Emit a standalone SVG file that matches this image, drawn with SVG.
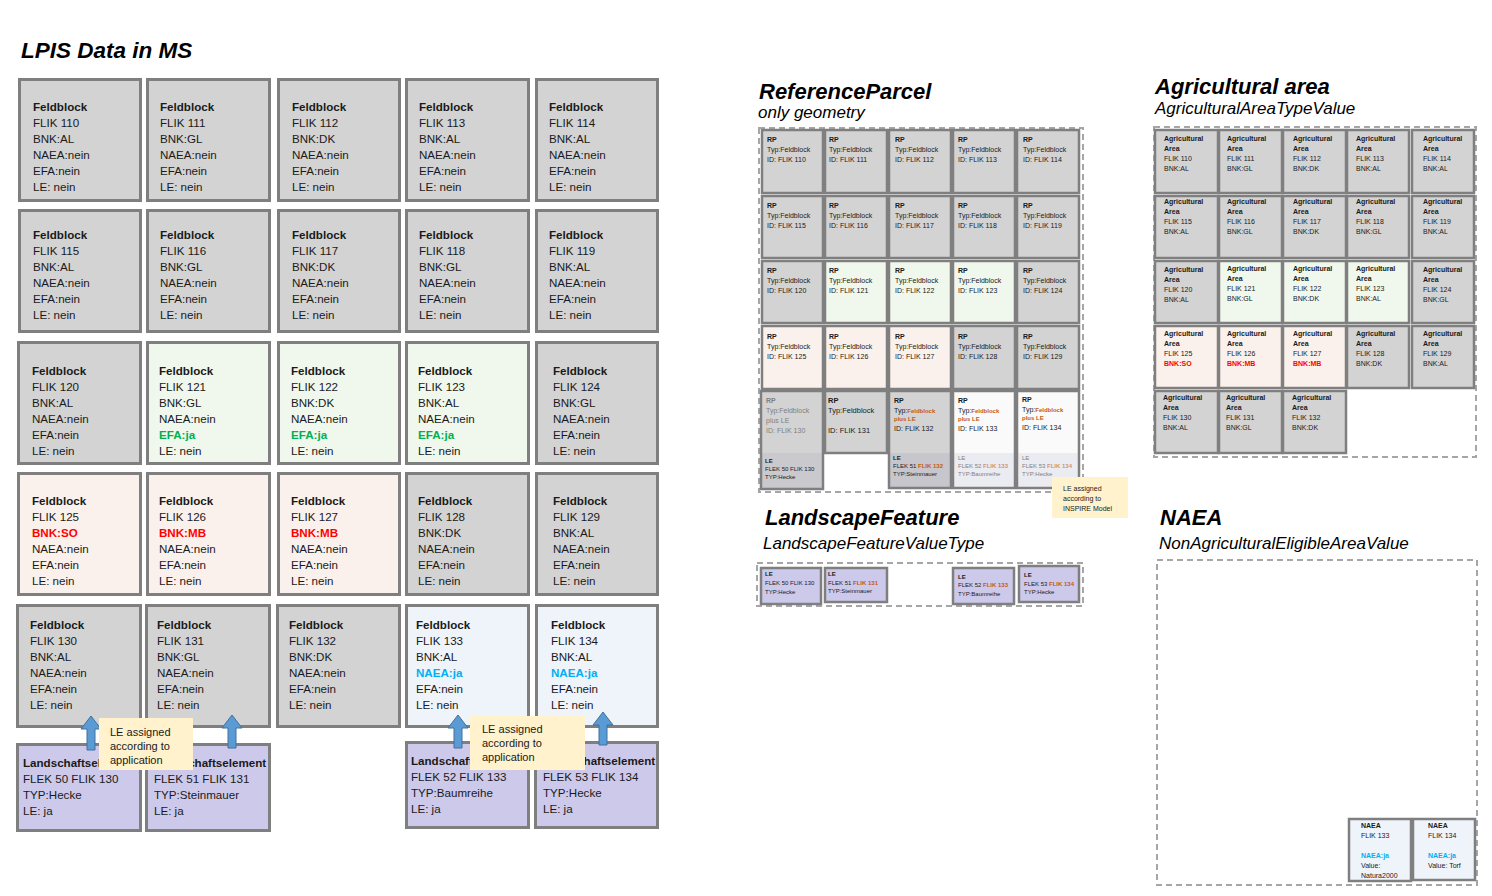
<svg xmlns="http://www.w3.org/2000/svg" width="1492" height="896" viewBox="0 0 1492 896">
<style>
text{font-family:"Liberation Sans",Arial,sans-serif;fill:#1a1a1a}
.h{font-weight:bold;font-style:italic;font-size:22px;fill:#000}
.s{font-style:italic;font-size:17px;fill:#000}
.c{stroke:#7f7f7f;stroke-width:3}
.m{stroke:#7f7f7f;stroke-width:2.5}
.g{fill:#d3d3d3}.gr{fill:#f0f7ec}.pk{fill:#fbf1ec}.bl{fill:#eff3fa}.lv{fill:#cdc9ea}.wh{fill:#fafafa}
.t{font-size:11.6px}
.b{font-weight:bold}
.red{fill:#ff0000;font-weight:bold}
.grn{fill:#00b050;font-weight:bold}
.cy{fill:#00b0f0;font-weight:bold}
.or{fill:#c55a11;font-weight:bold}
.st{font-size:7px}
.xs{font-size:6px}
.dim{fill:#808080}
.dash{fill:none;stroke:#a6a6a6;stroke-width:2;stroke-dasharray:6 4}
.call{fill:#fff2cc}
.arr{fill:#5b9bd5;stroke:#41719c;stroke-width:1}
</style>

<text class="h" x="21" y="58" style="font-size:22.5px">LPIS Data in MS</text>
<text class="h" x="759" y="99">ReferenceParcel</text>
<text class="s" x="758" y="118">only geometry</text>
<text class="h" x="1155" y="94">Agricultural area</text>
<text class="s" x="1155" y="114">AgriculturalAreaTypeValue</text>
<text class="h" x="765" y="525">LandscapeFeature</text>
<text class="s" x="763" y="549">LandscapeFeatureValueType</text>
<text class="h" x="1160" y="525">NAEA</text>
<text class="s" x="1159" y="549">NonAgriculturalEligibleAreaValue</text>

<!-- LPIS grid -->
<g id="fb110"><rect class="c g" x="19.5" y="79.5" width="121" height="121"/><text class="t" x="33" y="111"><tspan class="b">Feldblock</tspan><tspan x="33" dy="16">FLIK 110</tspan><tspan x="33" dy="16">BNK:AL</tspan><tspan x="33" dy="16">NAEA:nein</tspan><tspan x="33" dy="16">EFA:nein</tspan><tspan x="33" dy="16">LE: nein</tspan></text></g>
<g id="fb111"><rect class="c g" x="147.5" y="79.5" width="122" height="121"/><text class="t" x="160" y="111"><tspan class="b">Feldblock</tspan><tspan x="160" dy="16">FLIK 111</tspan><tspan x="160" dy="16">BNK:GL</tspan><tspan x="160" dy="16">NAEA:nein</tspan><tspan x="160" dy="16">EFA:nein</tspan><tspan x="160" dy="16">LE: nein</tspan></text></g>
<g id="fb112"><rect class="c g" x="278.5" y="79.5" width="121" height="121"/><text class="t" x="292" y="111"><tspan class="b">Feldblock</tspan><tspan x="292" dy="16">FLIK 112</tspan><tspan x="292" dy="16">BNK:DK</tspan><tspan x="292" dy="16">NAEA:nein</tspan><tspan x="292" dy="16">EFA:nein</tspan><tspan x="292" dy="16">LE: nein</tspan></text></g>
<g id="fb113"><rect class="c g" x="406.5" y="79.5" width="122" height="121"/><text class="t" x="419" y="111"><tspan class="b">Feldblock</tspan><tspan x="419" dy="16">FLIK 113</tspan><tspan x="419" dy="16">BNK:AL</tspan><tspan x="419" dy="16">NAEA:nein</tspan><tspan x="419" dy="16">EFA:nein</tspan><tspan x="419" dy="16">LE: nein</tspan></text></g>
<g id="fb114"><rect class="c g" x="536.5" y="79.5" width="121" height="121"/><text class="t" x="549" y="111"><tspan class="b">Feldblock</tspan><tspan x="549" dy="16">FLIK 114</tspan><tspan x="549" dy="16">BNK:AL</tspan><tspan x="549" dy="16">NAEA:nein</tspan><tspan x="549" dy="16">EFA:nein</tspan><tspan x="549" dy="16">LE: nein</tspan></text></g>

<g id="fb115"><rect class="c g" x="19.5" y="210.5" width="121" height="121"/><text class="t" x="33" y="239"><tspan class="b">Feldblock</tspan><tspan x="33" dy="16">FLIK 115</tspan><tspan x="33" dy="16">BNK:AL</tspan><tspan x="33" dy="16">NAEA:nein</tspan><tspan x="33" dy="16">EFA:nein</tspan><tspan x="33" dy="16">LE: nein</tspan></text></g>
<g id="fb116"><rect class="c g" x="147.5" y="210.5" width="122" height="121"/><text class="t" x="160" y="239"><tspan class="b">Feldblock</tspan><tspan x="160" dy="16">FLIK 116</tspan><tspan x="160" dy="16">BNK:GL</tspan><tspan x="160" dy="16">NAEA:nein</tspan><tspan x="160" dy="16">EFA:nein</tspan><tspan x="160" dy="16">LE: nein</tspan></text></g>
<g id="fb117"><rect class="c g" x="278.5" y="210.5" width="121" height="121"/><text class="t" x="292" y="239"><tspan class="b">Feldblock</tspan><tspan x="292" dy="16">FLIK 117</tspan><tspan x="292" dy="16">BNK:DK</tspan><tspan x="292" dy="16">NAEA:nein</tspan><tspan x="292" dy="16">EFA:nein</tspan><tspan x="292" dy="16">LE: nein</tspan></text></g>
<g id="fb118"><rect class="c g" x="406.5" y="210.5" width="122" height="121"/><text class="t" x="419" y="239"><tspan class="b">Feldblock</tspan><tspan x="419" dy="16">FLIK 118</tspan><tspan x="419" dy="16">BNK:GL</tspan><tspan x="419" dy="16">NAEA:nein</tspan><tspan x="419" dy="16">EFA:nein</tspan><tspan x="419" dy="16">LE: nein</tspan></text></g>
<g id="fb119"><rect class="c g" x="536.5" y="210.5" width="121" height="121"/><text class="t" x="549" y="239"><tspan class="b">Feldblock</tspan><tspan x="549" dy="16">FLIK 119</tspan><tspan x="549" dy="16">BNK:AL</tspan><tspan x="549" dy="16">NAEA:nein</tspan><tspan x="549" dy="16">EFA:nein</tspan><tspan x="549" dy="16">LE: nein</tspan></text></g>

<g id="fb120"><rect class="c g" x="18.5" y="342.5" width="122" height="121"/><text class="t" x="32" y="375"><tspan class="b">Feldblock</tspan><tspan x="32" dy="16">FLIK 120</tspan><tspan x="32" dy="16">BNK:AL</tspan><tspan x="32" dy="16">NAEA:nein</tspan><tspan x="32" dy="16">EFA:nein</tspan><tspan x="32" dy="16">LE: nein</tspan></text></g>
<g id="fb121"><rect class="c gr" x="147.5" y="342.5" width="122" height="121"/><text class="t" x="159" y="375"><tspan class="b">Feldblock</tspan><tspan x="159" dy="16">FLIK 121</tspan><tspan x="159" dy="16">BNK:GL</tspan><tspan x="159" dy="16">NAEA:nein</tspan><tspan x="159" dy="16" class="grn">EFA:ja</tspan><tspan x="159" dy="16">LE: nein</tspan></text></g>
<g id="fb122"><rect class="c gr" x="278.5" y="342.5" width="121" height="121"/><text class="t" x="291" y="375"><tspan class="b">Feldblock</tspan><tspan x="291" dy="16">FLIK 122</tspan><tspan x="291" dy="16">BNK:DK</tspan><tspan x="291" dy="16">NAEA:nein</tspan><tspan x="291" dy="16" class="grn">EFA:ja</tspan><tspan x="291" dy="16">LE: nein</tspan></text></g>
<g id="fb123"><rect class="c gr" x="406.5" y="342.5" width="122" height="121"/><text class="t" x="418" y="375"><tspan class="b">Feldblock</tspan><tspan x="418" dy="16">FLIK 123</tspan><tspan x="418" dy="16">BNK:AL</tspan><tspan x="418" dy="16">NAEA:nein</tspan><tspan x="418" dy="16" class="grn">EFA:ja</tspan><tspan x="418" dy="16">LE: nein</tspan></text></g>
<g id="fb124"><rect class="c g" x="536.5" y="342.5" width="121" height="121"/><text class="t" x="553" y="375"><tspan class="b">Feldblock</tspan><tspan x="553" dy="16">FLIK 124</tspan><tspan x="553" dy="16">BNK:GL</tspan><tspan x="553" dy="16">NAEA:nein</tspan><tspan x="553" dy="16">EFA:nein</tspan><tspan x="553" dy="16">LE: nein</tspan></text></g>

<g id="fb125"><rect class="c pk" x="18.5" y="473.5" width="122" height="121"/><text class="t" x="32" y="505"><tspan class="b">Feldblock</tspan><tspan x="32" dy="16">FLIK 125</tspan><tspan x="32" dy="16" class="red">BNK:SO</tspan><tspan x="32" dy="16">NAEA:nein</tspan><tspan x="32" dy="16">EFA:nein</tspan><tspan x="32" dy="16">LE: nein</tspan></text></g>
<g id="fb126"><rect class="c pk" x="147.5" y="473.5" width="122" height="121"/><text class="t" x="159" y="505"><tspan class="b">Feldblock</tspan><tspan x="159" dy="16">FLIK 126</tspan><tspan x="159" dy="16" class="red">BNK:MB</tspan><tspan x="159" dy="16">NAEA:nein</tspan><tspan x="159" dy="16">EFA:nein</tspan><tspan x="159" dy="16">LE: nein</tspan></text></g>
<g id="fb127"><rect class="c pk" x="278.5" y="473.5" width="121" height="121"/><text class="t" x="291" y="505"><tspan class="b">Feldblock</tspan><tspan x="291" dy="16">FLIK 127</tspan><tspan x="291" dy="16" class="red">BNK:MB</tspan><tspan x="291" dy="16">NAEA:nein</tspan><tspan x="291" dy="16">EFA:nein</tspan><tspan x="291" dy="16">LE: nein</tspan></text></g>
<g id="fb128"><rect class="c g" x="406.5" y="473.5" width="122" height="121"/><text class="t" x="418" y="505"><tspan class="b">Feldblock</tspan><tspan x="418" dy="16">FLIK 128</tspan><tspan x="418" dy="16">BNK:DK</tspan><tspan x="418" dy="16">NAEA:nein</tspan><tspan x="418" dy="16">EFA:nein</tspan><tspan x="418" dy="16">LE: nein</tspan></text></g>
<g id="fb129"><rect class="c g" x="536.5" y="473.5" width="121" height="121"/><text class="t" x="553" y="505"><tspan class="b">Feldblock</tspan><tspan x="553" dy="16">FLIK 129</tspan><tspan x="553" dy="16">BNK:AL</tspan><tspan x="553" dy="16">NAEA:nein</tspan><tspan x="553" dy="16">EFA:nein</tspan><tspan x="553" dy="16">LE: nein</tspan></text></g>

<g id="fb130"><rect class="c g" x="17.5" y="605.5" width="123" height="121"/><text class="t" x="30" y="629"><tspan class="b">Feldblock</tspan><tspan x="30" dy="16">FLIK 130</tspan><tspan x="30" dy="16">BNK:AL</tspan><tspan x="30" dy="16">NAEA:nein</tspan><tspan x="30" dy="16">EFA:nein</tspan><tspan x="30" dy="16">LE: nein</tspan></text></g>
<g id="fb131"><rect class="c g" x="146.5" y="605.5" width="123" height="121"/><text class="t" x="157" y="629"><tspan class="b">Feldblock</tspan><tspan x="157" dy="16">FLIK 131</tspan><tspan x="157" dy="16">BNK:GL</tspan><tspan x="157" dy="16">NAEA:nein</tspan><tspan x="157" dy="16">EFA:nein</tspan><tspan x="157" dy="16">LE: nein</tspan></text></g>
<g id="fb132"><rect class="c g" x="277.5" y="605.5" width="122" height="121"/><text class="t" x="289" y="629"><tspan class="b">Feldblock</tspan><tspan x="289" dy="16">FLIK 132</tspan><tspan x="289" dy="16">BNK:DK</tspan><tspan x="289" dy="16">NAEA:nein</tspan><tspan x="289" dy="16">EFA:nein</tspan><tspan x="289" dy="16">LE: nein</tspan></text></g>
<g id="fb133"><rect class="c bl" x="406.5" y="605.5" width="122" height="121"/><text class="t" x="416" y="629"><tspan class="b">Feldblock</tspan><tspan x="416" dy="16">FLIK 133</tspan><tspan x="416" dy="16">BNK:AL</tspan><tspan x="416" dy="16" class="cy">NAEA:ja</tspan><tspan x="416" dy="16">EFA:nein</tspan><tspan x="416" dy="16">LE: nein</tspan></text></g>
<g id="fb134"><rect class="c bl" x="536.5" y="605.5" width="121" height="121"/><text class="t" x="551" y="629"><tspan class="b">Feldblock</tspan><tspan x="551" dy="16">FLIK 134</tspan><tspan x="551" dy="16">BNK:AL</tspan><tspan x="551" dy="16" class="cy">NAEA:ja</tspan><tspan x="551" dy="16">EFA:nein</tspan><tspan x="551" dy="16">LE: nein</tspan></text></g>

<!-- Landschaftselemente -->
<g id="le50"><rect class="c lv" x="17.5" y="744.5" width="123" height="86"/><text class="t" x="23" y="767"><tspan class="b">Landschaftselement</tspan><tspan x="23" dy="16">FLEK 50 FLIK 130</tspan><tspan x="23" dy="16">TYP:Hecke</tspan><tspan x="23" dy="16">LE: ja</tspan></text></g>
<g id="le51"><rect class="c lv" x="146.5" y="744.5" width="123" height="86"/><text class="t" x="154" y="767"><tspan class="b">Landschaftselement</tspan><tspan x="154" dy="16">FLEK 51 FLIK 131</tspan><tspan x="154" dy="16">TYP:Steinmauer</tspan><tspan x="154" dy="16">LE: ja</tspan></text></g>
<g id="le52"><rect class="c lv" x="406.5" y="742.5" width="122" height="85"/><text class="t" x="411" y="765"><tspan class="b">Landschaftselement</tspan><tspan x="411" dy="16">FLEK 52 FLIK 133</tspan><tspan x="411" dy="16">TYP:Baumreihe</tspan><tspan x="411" dy="16">LE: ja</tspan></text></g>
<g id="le53"><rect class="c lv" x="535.5" y="742.5" width="122" height="85"/><text class="t" x="543" y="765"><tspan class="b">Landschaftselement</tspan><tspan x="543" dy="16">FLEK 53 FLIK 134</tspan><tspan x="543" dy="16">TYP:Hecke</tspan><tspan x="543" dy="16">LE: ja</tspan></text></g>

<!-- connectors: block arrows -->
<g id="connectors">
<path class="arr" d="M91,716 L101,729 L95,729 L95,750 L87,750 L87,729 L81,729 Z"/>
<path class="arr" d="M232,715 L242,728 L236,728 L236,748 L228,748 L228,728 L222,728 Z"/>
<path class="arr" d="M458,715 L468,728 L462,728 L462,748 L454,748 L454,728 L448,728 Z"/>
<path class="arr" d="M603,712 L613,725 L607,725 L607,745 L599,745 L599,725 L593,725 Z"/>
</g>

<g id="callout1"><rect class="call" x="99" y="718" width="94" height="52"/><text x="110" y="736" style="font-size:11px"><tspan>LE assigned</tspan><tspan x="110" dy="14">according to</tspan><tspan x="110" dy="14">application</tspan></text></g>
<g id="callout2"><rect class="call" x="470" y="716" width="115" height="54"/><text x="482" y="733" style="font-size:11px"><tspan>LE assigned</tspan><tspan x="482" dy="14">according to</tspan><tspan x="482" dy="14">application</tspan></text></g>

<!-- ReferenceParcel -->
<rect class="dash" x="759" y="128" width="324" height="364"/>
<g id="rp110"><rect class="m g" x="762" y="130" width="61" height="63"/><text class="st" x="767" y="141.5"><tspan class="b">RP</tspan><tspan x="767" dy="10">Typ:Feldblock</tspan><tspan x="767" dy="10">ID: FLIK 110</tspan></text></g>
<g id="rp111"><rect class="m g" x="825" y="130" width="62" height="63"/><text class="st" x="829" y="141.5"><tspan class="b">RP</tspan><tspan x="829" dy="10">Typ:Feldblock</tspan><tspan x="829" dy="10">ID: FLIK 111</tspan></text></g>
<g id="rp112"><rect class="m g" x="889" y="130" width="62" height="63"/><text class="st" x="895" y="141.5"><tspan class="b">RP</tspan><tspan x="895" dy="10">Typ:Feldblock</tspan><tspan x="895" dy="10">ID: FLIK 112</tspan></text></g>
<g id="rp113"><rect class="m g" x="953" y="130" width="62" height="63"/><text class="st" x="958" y="141.5"><tspan class="b">RP</tspan><tspan x="958" dy="10">Typ:Feldblock</tspan><tspan x="958" dy="10">ID: FLIK 113</tspan></text></g>
<g id="rp114"><rect class="m g" x="1017" y="130" width="62" height="63"/><text class="st" x="1023" y="141.5"><tspan class="b">RP</tspan><tspan x="1023" dy="10">Typ:Feldblock</tspan><tspan x="1023" dy="10">ID: FLIK 114</tspan></text></g>

<g id="rp115"><rect class="m g" x="762" y="196" width="61" height="62"/><text class="st" x="767" y="207.5"><tspan class="b">RP</tspan><tspan x="767" dy="10">Typ:Feldblock</tspan><tspan x="767" dy="10">ID: FLIK 115</tspan></text></g>
<g id="rp116"><rect class="m g" x="825" y="196" width="62" height="62"/><text class="st" x="829" y="207.5"><tspan class="b">RP</tspan><tspan x="829" dy="10">Typ:Feldblock</tspan><tspan x="829" dy="10">ID: FLIK 116</tspan></text></g>
<g id="rp117"><rect class="m g" x="889" y="196" width="62" height="62"/><text class="st" x="895" y="207.5"><tspan class="b">RP</tspan><tspan x="895" dy="10">Typ:Feldblock</tspan><tspan x="895" dy="10">ID: FLIK 117</tspan></text></g>
<g id="rp118"><rect class="m g" x="953" y="196" width="62" height="62"/><text class="st" x="958" y="207.5"><tspan class="b">RP</tspan><tspan x="958" dy="10">Typ:Feldblock</tspan><tspan x="958" dy="10">ID: FLIK 118</tspan></text></g>
<g id="rp119"><rect class="m g" x="1017" y="196" width="62" height="62"/><text class="st" x="1023" y="207.5"><tspan class="b">RP</tspan><tspan x="1023" dy="10">Typ:Feldblock</tspan><tspan x="1023" dy="10">ID: FLIK 119</tspan></text></g>

<g id="rp120"><rect class="m g" x="762" y="261" width="61" height="62"/><text class="st" x="767" y="272.5"><tspan class="b">RP</tspan><tspan x="767" dy="10">Typ:Feldblock</tspan><tspan x="767" dy="10">ID: FLIK 120</tspan></text></g>
<g id="rp121"><rect class="m gr" x="825" y="261" width="62" height="62"/><text class="st" x="829" y="272.5"><tspan class="b">RP</tspan><tspan x="829" dy="10">Typ:Feldblock</tspan><tspan x="829" dy="10">ID: FLIK 121</tspan></text></g>
<g id="rp122"><rect class="m gr" x="889" y="261" width="62" height="62"/><text class="st" x="895" y="272.5"><tspan class="b">RP</tspan><tspan x="895" dy="10">Typ:Feldblock</tspan><tspan x="895" dy="10">ID: FLIK 122</tspan></text></g>
<g id="rp123"><rect class="m gr" x="953" y="261" width="62" height="62"/><text class="st" x="958" y="272.5"><tspan class="b">RP</tspan><tspan x="958" dy="10">Typ:Feldblock</tspan><tspan x="958" dy="10">ID: FLIK 123</tspan></text></g>
<g id="rp124"><rect class="m g" x="1017" y="261" width="62" height="62"/><text class="st" x="1023" y="272.5"><tspan class="b">RP</tspan><tspan x="1023" dy="10">Typ:Feldblock</tspan><tspan x="1023" dy="10">ID: FLIK 124</tspan></text></g>

<g id="rp125"><rect class="m pk" x="762" y="326" width="61" height="63"/><text class="st" x="767" y="338.5"><tspan class="b">RP</tspan><tspan x="767" dy="10">Typ:Feldblock</tspan><tspan x="767" dy="10">ID: FLIK 125</tspan></text></g>
<g id="rp126"><rect class="m pk" x="825" y="326" width="62" height="63"/><text class="st" x="829" y="338.5"><tspan class="b">RP</tspan><tspan x="829" dy="10">Typ:Feldblock</tspan><tspan x="829" dy="10">ID: FLIK 126</tspan></text></g>
<g id="rp127"><rect class="m pk" x="889" y="326" width="62" height="63"/><text class="st" x="895" y="338.5"><tspan class="b">RP</tspan><tspan x="895" dy="10">Typ:Feldblock</tspan><tspan x="895" dy="10">ID: FLIK 127</tspan></text></g>
<g id="rp128"><rect class="m g" x="953" y="326" width="62" height="63"/><text class="st" x="958" y="338.5"><tspan class="b">RP</tspan><tspan x="958" dy="10">Typ:Feldblock</tspan><tspan x="958" dy="10">ID: FLIK 128</tspan></text></g>
<g id="rp129"><rect class="m g" x="1017" y="326" width="62" height="63"/><text class="st" x="1023" y="338.5"><tspan class="b">RP</tspan><tspan x="1023" dy="10">Typ:Feldblock</tspan><tspan x="1023" dy="10">ID: FLIK 129</tspan></text></g>

<g id="rp130"><rect class="g" x="761" y="391" width="62" height="98"/><rect x="761" y="453" width="62" height="36" fill="#c9c9ce"/><rect x="761" y="391" width="62" height="98" fill="none" stroke="#7f7f7f" stroke-width="2.5"/><text class="st dim" x="766" y="402.5"><tspan class="b dim">RP</tspan><tspan class="dim" x="766" dy="10">Typ:Feldblock</tspan><tspan class="dim" x="766" dy="10">plus LE</tspan><tspan class="dim" x="766" dy="10">ID: FLIK 130</tspan></text><text class="xs" x="765" y="463"><tspan class="b">LE</tspan><tspan x="765" dy="8">FLEK 50 FLIK 130</tspan><tspan x="765" dy="8">TYP:Hecke</tspan></text></g>
<g id="rp131"><rect class="m g" x="825" y="391" width="62" height="62"/><text x="828" y="403" style="font-size:7.5px"><tspan class="b">RP</tspan><tspan x="828" dy="10">Typ:Feldblock</tspan><tspan x="828" dy="20">ID: FLIK 131</tspan></text></g>
<g id="rp132"><rect class="g" x="889" y="391" width="62" height="97"/><rect x="889" y="453" width="62" height="35" fill="#c6c6cc"/><rect x="889" y="391" width="62" height="97" fill="none" stroke="#7f7f7f" stroke-width="2.5"/><text x="894" y="402.5" style="font-size:7px"><tspan class="b">RP</tspan><tspan x="894" dy="10">Typ:</tspan><tspan class="or" style="font-size:6px">Feldblock</tspan><tspan class="or" x="894" dy="8" style="font-size:6px">plus LE</tspan><tspan x="894" dy="10">ID: FLIK 132</tspan></text><text class="xs" x="893" y="460"><tspan class="b">LE</tspan><tspan x="893" dy="8">FLEK 51 </tspan><tspan class="or">FLIK 132</tspan><tspan x="893" dy="8">TYP:Steinmauer</tspan></text></g>
<g id="rp133"><rect class="wh" x="953" y="391" width="62" height="97"/><rect x="953" y="453" width="62" height="35" fill="#ebebf2"/><rect x="953" y="391" width="62" height="97" fill="none" stroke="#7f7f7f" stroke-width="2.5"/><text x="958" y="402.5" style="font-size:7px"><tspan class="b">RP</tspan><tspan x="958" dy="10">Typ:</tspan><tspan class="or" style="font-size:6px">Feldblock</tspan><tspan class="or" x="958" dy="8" style="font-size:6px">plus LE</tspan><tspan x="958" dy="10">ID: FLIK 133</tspan></text><text class="xs dim" x="958" y="460"><tspan class="dim">LE</tspan><tspan class="dim" x="958" dy="8">FLEK 52 </tspan><tspan class="or" style="opacity:.6">FLIK 133</tspan><tspan class="dim" x="958" dy="8">TYP:Baumreihe</tspan></text></g>
<g id="rp134"><rect class="wh" x="1017" y="391" width="62" height="97"/><rect x="1017" y="453" width="62" height="35" fill="#ebebf2"/><rect x="1017" y="391" width="62" height="97" fill="none" stroke="#7f7f7f" stroke-width="2.5"/><text x="1022" y="401.5" style="font-size:7px"><tspan class="b">RP</tspan><tspan x="1022" dy="10">Typ:</tspan><tspan class="or" style="font-size:6px">Feldblock</tspan><tspan class="or" x="1022" dy="8" style="font-size:6px">plus LE</tspan><tspan x="1022" dy="10">ID: FLIK 134</tspan></text><text class="xs dim" x="1022" y="460"><tspan class="dim">LE</tspan><tspan class="dim" x="1022" dy="8">FLEK 53 </tspan><tspan class="or" style="opacity:.6">FLIK 134</tspan><tspan class="dim" x="1022" dy="8">TYP:Hecke</tspan></text></g>

<g id="callout3"><rect class="call" x="1052" y="477" width="76" height="41"/><text class="st" x="1063" y="491"><tspan>LE assigned</tspan><tspan x="1063" dy="10">according to</tspan><tspan x="1063" dy="10">INSPIRE Model</tspan></text></g>

<!-- Agricultural area -->
<rect class="dash" x="1154" y="127" width="322" height="330"/>
<g id="aa110"><rect class="m g" x="1155" y="130" width="63" height="63"/><text class="st" x="1164" y="140.5"><tspan class="b">Agricultural</tspan><tspan class="b" x="1164" dy="10">Area</tspan><tspan x="1164" dy="10">FLIK 110</tspan><tspan x="1164" dy="10">BNK:AL</tspan></text></g>
<g id="aa111"><rect class="m g" x="1219" y="130" width="63" height="63"/><text class="st" x="1227" y="140.5"><tspan class="b">Agricultural</tspan><tspan class="b" x="1227" dy="10">Area</tspan><tspan x="1227" dy="10">FLIK 111</tspan><tspan x="1227" dy="10">BNK:GL</tspan></text></g>
<g id="aa112"><rect class="m g" x="1283" y="130" width="63" height="63"/><text class="st" x="1293" y="140.5"><tspan class="b">Agricultural</tspan><tspan class="b" x="1293" dy="10">Area</tspan><tspan x="1293" dy="10">FLIK 112</tspan><tspan x="1293" dy="10">BNK:DK</tspan></text></g>
<g id="aa113"><rect class="m g" x="1347" y="130" width="62" height="63"/><text class="st" x="1356" y="140.5"><tspan class="b">Agricultural</tspan><tspan class="b" x="1356" dy="10">Area</tspan><tspan x="1356" dy="10">FLIK 113</tspan><tspan x="1356" dy="10">BNK:AL</tspan></text></g>
<g id="aa114"><rect class="m g" x="1412" y="130" width="62" height="63"/><text class="st" x="1423" y="140.5"><tspan class="b">Agricultural</tspan><tspan class="b" x="1423" dy="10">Area</tspan><tspan x="1423" dy="10">FLIK 114</tspan><tspan x="1423" dy="10">BNK:AL</tspan></text></g>

<g id="aa115"><rect class="m g" x="1155" y="196" width="63" height="62"/><text class="st" x="1164" y="203.5"><tspan class="b">Agricultural</tspan><tspan class="b" x="1164" dy="10">Area</tspan><tspan x="1164" dy="10">FLIK 115</tspan><tspan x="1164" dy="10">BNK:AL</tspan></text></g>
<g id="aa116"><rect class="m g" x="1219" y="196" width="63" height="62"/><text class="st" x="1227" y="203.5"><tspan class="b">Agricultural</tspan><tspan class="b" x="1227" dy="10">Area</tspan><tspan x="1227" dy="10">FLIK 116</tspan><tspan x="1227" dy="10">BNK:GL</tspan></text></g>
<g id="aa117"><rect class="m g" x="1283" y="196" width="63" height="62"/><text class="st" x="1293" y="203.5"><tspan class="b">Agricultural</tspan><tspan class="b" x="1293" dy="10">Area</tspan><tspan x="1293" dy="10">FLIK 117</tspan><tspan x="1293" dy="10">BNK:DK</tspan></text></g>
<g id="aa118"><rect class="m g" x="1347" y="196" width="62" height="62"/><text class="st" x="1356" y="203.5"><tspan class="b">Agricultural</tspan><tspan class="b" x="1356" dy="10">Area</tspan><tspan x="1356" dy="10">FLIK 118</tspan><tspan x="1356" dy="10">BNK:GL</tspan></text></g>
<g id="aa119"><rect class="m g" x="1412" y="196" width="62" height="62"/><text class="st" x="1423" y="203.5"><tspan class="b">Agricultural</tspan><tspan class="b" x="1423" dy="10">Area</tspan><tspan x="1423" dy="10">FLIK 119</tspan><tspan x="1423" dy="10">BNK:AL</tspan></text></g>

<g id="aa120"><rect class="m g" x="1155" y="261" width="63" height="62"/><text class="st" x="1164" y="271.5"><tspan class="b">Agricultural</tspan><tspan class="b" x="1164" dy="10">Area</tspan><tspan x="1164" dy="10">FLIK 120</tspan><tspan x="1164" dy="10">BNK:AL</tspan></text></g>
<g id="aa121"><rect class="m gr" x="1219" y="261" width="63" height="62"/><text class="st" x="1227" y="270.5"><tspan class="b">Agricultural</tspan><tspan class="b" x="1227" dy="10">Area</tspan><tspan x="1227" dy="10">FLIK 121</tspan><tspan x="1227" dy="10">BNK:GL</tspan></text></g>
<g id="aa122"><rect class="m gr" x="1283" y="261" width="63" height="62"/><text class="st" x="1293" y="270.5"><tspan class="b">Agricultural</tspan><tspan class="b" x="1293" dy="10">Area</tspan><tspan x="1293" dy="10">FLIK 122</tspan><tspan x="1293" dy="10">BNK:DK</tspan></text></g>
<g id="aa123"><rect class="m gr" x="1347" y="261" width="62" height="62"/><text class="st" x="1356" y="270.5"><tspan class="b">Agricultural</tspan><tspan class="b" x="1356" dy="10">Area</tspan><tspan x="1356" dy="10">FLIK 123</tspan><tspan x="1356" dy="10">BNK:AL</tspan></text></g>
<g id="aa124"><rect class="m g" x="1412" y="261" width="62" height="62"/><text class="st" x="1423" y="271.5"><tspan class="b">Agricultural</tspan><tspan class="b" x="1423" dy="10">Area</tspan><tspan x="1423" dy="10">FLIK 124</tspan><tspan x="1423" dy="10">BNK:GL</tspan></text></g>

<g id="aa125"><rect class="m pk" x="1155" y="326" width="63" height="62"/><text class="st" x="1164" y="335.5"><tspan class="b">Agricultural</tspan><tspan class="b" x="1164" dy="10">Area</tspan><tspan x="1164" dy="10">FLIK 125</tspan><tspan class="red" x="1164" dy="10">BNK:SO</tspan></text></g>
<g id="aa126"><rect class="m pk" x="1219" y="326" width="63" height="62"/><text class="st" x="1227" y="335.5"><tspan class="b">Agricultural</tspan><tspan class="b" x="1227" dy="10">Area</tspan><tspan x="1227" dy="10">FLIK 126</tspan><tspan class="red" x="1227" dy="10">BNK:MB</tspan></text></g>
<g id="aa127"><rect class="m pk" x="1283" y="326" width="63" height="62"/><text class="st" x="1293" y="335.5"><tspan class="b">Agricultural</tspan><tspan class="b" x="1293" dy="10">Area</tspan><tspan x="1293" dy="10">FLIK 127</tspan><tspan class="red" x="1293" dy="10">BNK:MB</tspan></text></g>
<g id="aa128"><rect class="m g" x="1347" y="326" width="62" height="62"/><text class="st" x="1356" y="335.5"><tspan class="b">Agricultural</tspan><tspan class="b" x="1356" dy="10">Area</tspan><tspan x="1356" dy="10">FLIK 128</tspan><tspan x="1356" dy="10">BNK:DK</tspan></text></g>
<g id="aa129"><rect class="m g" x="1412" y="326" width="62" height="62"/><text class="st" x="1423" y="335.5"><tspan class="b">Agricultural</tspan><tspan class="b" x="1423" dy="10">Area</tspan><tspan x="1423" dy="10">FLIK 129</tspan><tspan x="1423" dy="10">BNK:AL</tspan></text></g>

<g id="aa130"><rect class="m g" x="1155" y="391" width="63" height="62"/><text class="st" x="1163" y="399.5"><tspan class="b">Agricultural</tspan><tspan class="b" x="1163" dy="10">Area</tspan><tspan x="1163" dy="10">FLIK 130</tspan><tspan x="1163" dy="10">BNK:AL</tspan></text></g>
<g id="aa131"><rect class="m g" x="1219" y="391" width="63" height="62"/><text class="st" x="1226" y="399.5"><tspan class="b">Agricultural</tspan><tspan class="b" x="1226" dy="10">Area</tspan><tspan x="1226" dy="10">FLIK 131</tspan><tspan x="1226" dy="10">BNK:GL</tspan></text></g>
<g id="aa132"><rect class="m g" x="1283" y="391" width="63" height="62"/><text class="st" x="1292" y="399.5"><tspan class="b">Agricultural</tspan><tspan class="b" x="1292" dy="10">Area</tspan><tspan x="1292" dy="10">FLIK 132</tspan><tspan x="1292" dy="10">BNK:DK</tspan></text></g>

<!-- LandscapeFeature -->
<rect class="dash" x="757" y="563" width="326" height="43"/>
<g id="lf50"><rect class="m lv" x="761" y="568" width="60" height="36"/><text class="xs" x="765" y="576"><tspan class="b">LE</tspan><tspan x="765" dy="9">FLEK 50 FLIK 130</tspan><tspan x="765" dy="9">TYP:Hecke</tspan></text></g>
<g id="lf51"><rect class="m lv" x="825" y="568" width="62" height="34"/><text class="xs" x="828" y="576"><tspan class="b">LE</tspan><tspan x="828" dy="9">FLEK 51 </tspan><tspan class="or">FLIK 131</tspan><tspan x="828" dy="8">TYP:Steinmauer</tspan></text></g>
<g id="lf52"><rect class="m lv" x="953" y="568" width="61" height="36"/><text class="xs" x="958" y="579"><tspan class="b">LE</tspan><tspan x="958" dy="8">FLEK 52 </tspan><tspan class="or">FLIK 133</tspan><tspan x="958" dy="9">TYP:Baumreihe</tspan></text></g>
<g id="lf53"><rect class="m lv" x="1019" y="566" width="60" height="36"/><text class="xs" x="1024" y="577"><tspan class="b">LE</tspan><tspan x="1024" dy="9">FLEK 53 </tspan><tspan class="or">FLIK 134</tspan><tspan x="1024" dy="8">TYP:Hecke</tspan></text></g>

<!-- NAEA -->
<rect class="dash" x="1157" y="560" width="320" height="325"/>
<g id="na133"><rect class="m bl" x="1349" y="819" width="62" height="62"/><text class="st" x="1361" y="828"><tspan class="b">NAEA</tspan><tspan x="1361" dy="10">FLIK 133</tspan><tspan class="cy" x="1361" dy="20">NAEA:ja</tspan><tspan x="1361" dy="10">Value:</tspan><tspan x="1361" dy="10">Natura2000</tspan></text></g>
<g id="na134"><rect class="m bl" x="1413" y="819" width="62" height="61"/><text class="st" x="1428" y="828"><tspan class="b">NAEA</tspan><tspan x="1428" dy="10">FLIK 134</tspan><tspan class="cy" x="1428" dy="20">NAEA:ja</tspan><tspan x="1428" dy="10">Value: Torf</tspan></text></g>
</svg>
